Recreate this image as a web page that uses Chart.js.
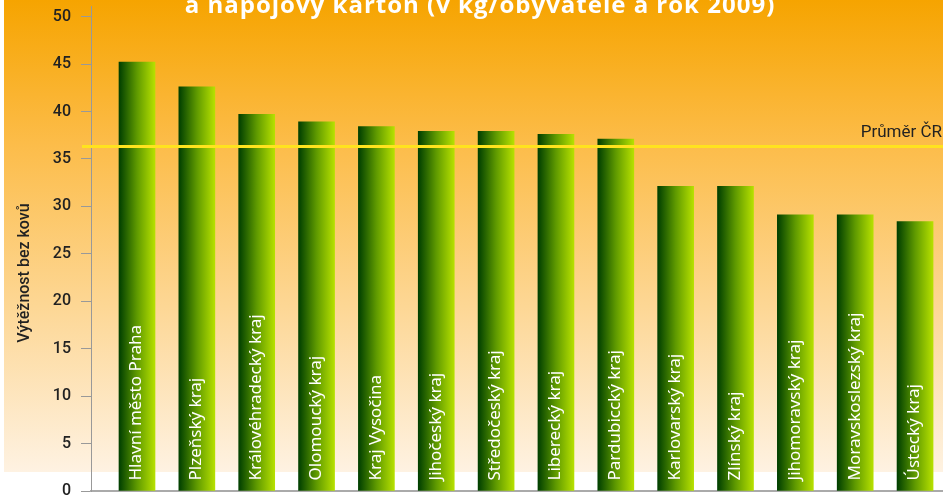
<!DOCTYPE html>
<html>
<head>
<meta charset="utf-8">
<script src="https://cdn.jsdelivr.net/npm/chart.js@4/dist/chart.umd.min.js"></script>
<style>
html,body{margin:0;padding:0;background:#fff;}
#wrap{width:943px;height:501px;position:relative;}
</style>
</head>
<body>
<div id="wrap"><canvas id="c" width="943" height="501"></canvas></div>
<script>
const categories = ['Hlavní město Praha','Plzeňský kraj','Královéhradecký kraj','Olomoucký kraj','Kraj Vysočina','Jihočeský kraj','Středočeský kraj','Liberecký kraj','Pardubiccký kraj','Karlovarský kraj','Zlínský kraj','Jihomoravský kraj','Moravskoslezský kraj','Ústecký kraj'];
const values = [45.2, 42.6, 39.7, 38.9, 38.4, 37.9, 37.9, 37.6, 37.1, 32.1, 32.1, 29.1, 29.1, 28.4];
const average = 36.3;
const averageLabel = 'Průměr ČR';
const yTickValues = [0, 5, 10, 15, 20, 25, 30, 35, 40, 45, 50];
const yTitle = 'Výtěžnost bez kovů';
const titleText = 'a nápojový karton (v kg/obyvatele a rok 2009)';

const bgPlugin = {
  id: 'bg',
  beforeDraw(chart) {
    const ctx = chart.ctx;
    ctx.save();
    ctx.fillStyle = '#ffffff';
    ctx.fillRect(0, 0, chart.width, chart.height);
    const g = ctx.createLinearGradient(0, 0, 0, 472);
    g.addColorStop(0, '#F6A400');
    g.addColorStop(0.3, '#FCBC48');
    g.addColorStop(1, '#FEF2E2');
    ctx.fillStyle = g;
    ctx.fillRect(4, 0, chart.width - 4, 472);
    ctx.restore();
  }
};

const overlayPlugin = {
  id: 'overlay',
  afterDatasetsDraw(chart) {
    const ctx = chart.ctx;
    const xs = chart.scales.x, ys = chart.scales.y;
    ctx.save();
    ctx.fillStyle = '#ffffff';
    ctx.font = '17px "Noto Sans"';
    ctx.textAlign = 'left';
    ctx.textBaseline = 'middle';
    categories.forEach((lab, i) => {
      const cx = xs.getPixelForValue(i);
      ctx.save();
      ctx.translate(cx - 0.5, 480.5);
      ctx.rotate(-Math.PI / 2);
      ctx.fillText(lab, 0, 0);
      ctx.restore();
    });
    const ay = ys.getPixelForValue(average);
    ctx.strokeStyle = '#FFE31E';
    ctx.lineWidth = 3;
    ctx.beginPath();
    ctx.moveTo(82, ay);
    ctx.lineTo(chart.width, ay);
    ctx.stroke();
    ctx.fillStyle = '#222222';
    ctx.font = '17px Roboto';
    ctx.textAlign = 'right';
    ctx.textBaseline = 'alphabetic';
    ctx.fillText(averageLabel, 942, ay - 10);
    ctx.restore();
  },
  afterDraw(chart) {
    const ctx = chart.ctx;
    ctx.save();
    ctx.translate(24.5, 273);
    ctx.rotate(-Math.PI / 2);
    ctx.fillStyle = '#222222';
    ctx.font = '500 16px Roboto';
    ctx.textAlign = 'center';
    ctx.textBaseline = 'middle';
    ctx.fillText(yTitle, 0, 0);
    ctx.restore();
    ctx.save();
    ctx.fillStyle = '#ffffff';
    ctx.font = 'bold 24px "Open Sans"';
    try { ctx.letterSpacing = '1px'; } catch (e) {}
    ctx.textAlign = 'center';
    ctx.textBaseline = 'alphabetic';
    ctx.fillText(titleText, 480, 13);
    ctx.restore();
  }
};

function barGradient(c) {
  const ch = c.chart;
  const xs = ch.scales && ch.scales.x;
  if (!xs || c.type !== 'data') return '#5f9a00';
  const cx = xs.getPixelForValue(c.dataIndex);
  if (!isFinite(cx)) return '#5f9a00';
  const g = ch.ctx.createLinearGradient(cx - 18, 0, cx + 18, 0);
  g.addColorStop(0, '#003f00');
  g.addColorStop(0.5, '#5f9a00');
  g.addColorStop(1, '#b6e000');
  return g;
}

new Chart(document.getElementById('c'), {
  type: 'bar',
  data: {
    datasets: [{
      data: values.map((v, i) => ({ x: i, y: v })),
      backgroundColor: barGradient,
      borderWidth: 0,
      barThickness: 36
    }]
  },
  options: {
    responsive: false,
    animation: false,
    events: [],
    layout: { padding: { top: 6, left: 0, right: 0, bottom: 0 } },
    plugins: { legend: { display: false }, tooltip: { enabled: false }, title: { display: false } },
    scales: {
      x: {
        type: 'linear',
        offset: false,
        min: -0.7686,
        max: 13.467,
        afterBuildTicks(s) { s.ticks = [{ value: s.min }]; },
        afterFit(s) { s.height = 10; s.paddingLeft = 0; s.paddingRight = 0; },
        ticks: { display: false },
        grid: { display: true, drawOnChartArea: false, drawTicks: true, tickLength: 10, color: '#999999', lineWidth: 1 },
        border: { display: true, color: '#aaaaaa', width: 2 }
      },
      y: {
        min: 0,
        max: 51.12,
        afterBuildTicks(s) { s.ticks = yTickValues.map(v => ({ value: v })); },
        afterFit(s) { s.width = 91; s.paddingTop = 0; s.paddingBottom = 0; },
        ticks: { color: '#222222', font: { family: 'Roboto', size: 16, weight: '500' }, padding: 10 },
        grid: { display: true, drawOnChartArea: false, drawTicks: true, tickLength: 10, color: '#999999', lineWidth: 1 },
        border: { display: true, color: '#999999', width: 1 }
      }
    }
  },
  plugins: [bgPlugin, overlayPlugin]
});
</script>
</body>
</html>
